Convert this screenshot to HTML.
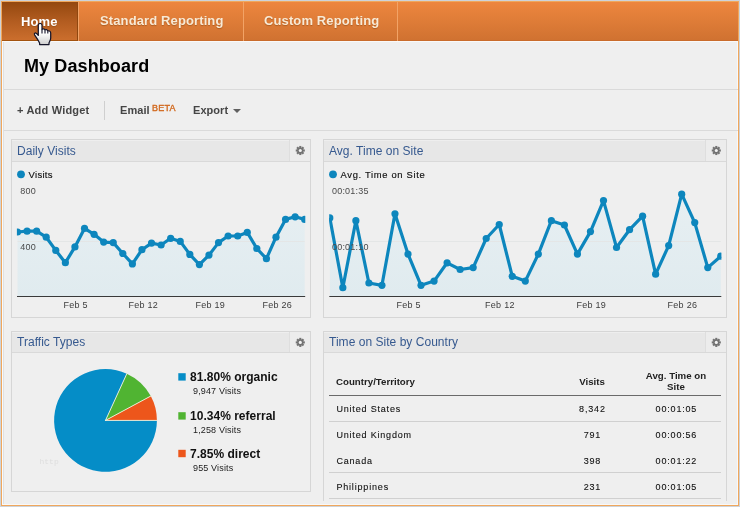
<!DOCTYPE html>
<html><head><meta charset="utf-8"><title>My Dashboard</title>
<style>
html,body{margin:0;padding:0;}
body{width:740px;height:507px;overflow:hidden;background:#ced3d9;font-family:"Liberation Sans",Arial,sans-serif;position:relative;}
.abs{position:absolute;}
#frame{position:absolute;left:1px;top:1px;width:736px;height:503px;border:1px solid #f0a75c;background:#efefef;overflow:hidden;}
#inner{position:absolute;left:-2px;top:-2px;width:740px;height:507px;}
#nav{left:2px;top:2px;width:736px;height:39px;background:linear-gradient(#ed863e,#d07231);border-bottom:1px solid #c96b2b;box-sizing:border-box;}
#home{left:2px;top:2px;width:75px;height:38px;background:linear-gradient(#94480f,#b25c20 50%,#cb6e2d);border-right:1px solid #8f470f;border-bottom:1px solid #a3530f;}
.tab{position:absolute;top:1px;letter-spacing:0.12px;height:39px;line-height:39px;font-weight:bold;font-size:13px;color:#f8ead6;text-shadow:0 1px 1px rgba(120,60,10,.45);white-space:nowrap;}
.sep{position:absolute;top:2px;width:1px;height:39px;background:#f2a366;}
.hl{position:absolute;height:1px;background:#dadada;}
.t11{position:absolute;letter-spacing:0.2px;font-weight:bold;font-size:11px;color:#454545;white-space:nowrap;line-height:13px;}
.w{position:absolute;border:1px solid #d6d6d6;box-sizing:border-box;}
.wh{position:absolute;left:0;top:0;right:0;height:21px;background:#e7e7e7;box-shadow:inset 0 1px 0 #eeeeee;border-bottom:1px solid #d9d9d9;}
.wt{position:absolute;left:5px;top:1px;letter-spacing:0.03px;line-height:21px;font-size:12px;color:#36598f;white-space:nowrap;}
.wh.b{height:20px;}
.wh.b .wt{top:0;}
.wh.b .gs,.wh.b .gb{height:20px;}
.gs{position:absolute;right:20px;top:0;width:1px;height:21px;background:#dedede;}
.gb{position:absolute;right:0;top:0;width:20px;height:21px;background:#ececec;}
svg{position:absolute;left:0;top:0;}
svg text{font-family:"Liberation Sans",Arial,sans-serif;}
.lg{position:absolute;letter-spacing:0.02px;font-weight:bold;font-size:12px;color:#111;white-space:nowrap;line-height:14px;}
.ls{position:absolute;letter-spacing:0.15px;font-size:9px;color:#222;white-space:nowrap;line-height:11px;}
.sq{position:absolute;width:8px;height:8px;}
.th{position:absolute;font-weight:bold;font-size:9.7px;color:#222;white-space:nowrap;line-height:11px;}
.td{position:absolute;transform:translate(0.4px,-0.3px);font-size:9px;color:#111;-webkit-text-stroke:0.1px #111;white-space:nowrap;line-height:12px;letter-spacing:0.82px;}
.c{text-align:center;}
</style></head><body>
<div id="frame"><div id="inner">
<div class="abs" style="left:2px;top:41px;width:736px;height:1px;background:#f9f9f9"></div>
<div class="abs" style="left:2px;top:41px;width:1px;height:464px;background:#fafafa"></div>
<div class="abs" style="left:3px;top:42px;width:1px;height:463px;background:#e0e0e0"></div>
<div class="abs" style="left:737px;top:41px;width:1px;height:464px;background:#f8f8f8"></div>
<div class="abs" style="left:2px;top:504px;width:736px;height:1px;background:#f8f8f8"></div>
<div id="nav" class="abs"></div>
<div id="home" class="abs"></div>
<div class="sep" style="left:78px"></div><div class="sep" style="left:243px"></div><div class="sep" style="left:397px"></div>
<div class="tab" style="left:21px;color:#fff;transform:translateY(0.6px)">Home</div>
<div class="tab" style="left:100px">Standard Reporting</div>
<div class="tab" style="left:264px">Custom Reporting</div>

<div class="abs" style="left:24px;top:55px;font-size:18px;font-weight:bold;color:#000;line-height:22px;letter-spacing:0.1px;white-space:nowrap">My Dashboard</div>
<div class="hl" style="left:4px;top:89px;width:734px"></div>
<div class="t11" style="left:17px;top:104px">+ Add Widget</div>
<div class="abs" style="left:104px;top:101px;width:1px;height:19px;background:#cfcfcf"></div>
<div class="t11" style="left:120px;top:104px;letter-spacing:0.05px">Email</div>
<div class="abs" style="left:152px;top:102px;font-size:9px;line-height:10px;color:#d2691e;-webkit-text-stroke:0.35px #d2691e;letter-spacing:0.2px;transform:translateY(0.6px);white-space:nowrap">BETA</div>
<div class="t11" style="left:193px;top:104px;letter-spacing:0.05px">Export</div>
<div class="abs" style="left:233px;top:109px;width:0;height:0;border-left:4px solid transparent;border-right:4px solid transparent;border-top:4.5px solid #606060"></div>
<div class="hl" style="left:4px;top:130px;width:734px"></div>

<!-- widgets -->
<div class="w" style="left:11px;top:139px;width:300px;height:179px"><div class="wh"><div class="wt">Daily Visits</div><div class="gb"></div><div class="gs"></div></div></div>
<div class="w" style="left:323px;top:139px;width:404px;height:179px"><div class="wh"><div class="wt">Avg. Time on Site</div><div class="gb"></div><div class="gs"></div></div></div>
<div class="w" style="left:11px;top:331px;width:300px;height:161px"><div class="wh b"><div class="wt">Traffic Types</div><div class="gb"></div><div class="gs"></div></div></div>
<div class="w" style="left:323px;top:331px;width:404px;height:170px;border-bottom:none"><div class="wh b"><div class="wt">Time on Site by Country</div><div class="gb"></div><div class="gs"></div></div></div>

<svg width="740" height="507" viewBox="0 0 740 507"><defs><linearGradient id="fg" x1="0" y1="195" x2="0" y2="296" gradientUnits="userSpaceOnUse"><stop offset="0" stop-color="#e7eff2"/><stop offset="1" stop-color="#e0ebef"/></linearGradient><linearGradient id="hg" x1="0" y1="0" x2="0" y2="1"><stop offset="0.45" stop-color="#fff"/><stop offset="1" stop-color="#cfcfcf"/></linearGradient></defs>
<clipPath id="c17"><rect x="16.9" y="165" width="288.4" height="140"/></clipPath><g clip-path="url(#c17)"><polygon points="17.5,296.5 17.5,232 27.07,231.2 36.65,231.2 46.22,237.2 55.79,250.4 65.37,262.7 74.94,246.9 84.51,228.4 94.09,234.3 103.66,242.1 113.23,242.6 122.81,253.5 132.38,263.9 141.95,249.7 151.53,243.1 161.1,245 170.67,238.3 180.25,241.4 189.82,254.4 199.39,264.6 208.97,255.1 218.54,242.6 228.11,236 237.69,236 247.26,232.4 256.83,248.5 266.41,258.7 275.98,237.2 285.55,219.4 295.13,216.8 304.7,219.4 304.7,296.5" fill="url(#fg)"/><line x1="17.5" x2="304.7" y1="241.5" y2="241.5" stroke="#e4e6e6" stroke-width="1"/><polyline points="17.5,232 27.07,231.2 36.65,231.2 46.22,237.2 55.79,250.4 65.37,262.7 74.94,246.9 84.51,228.4 94.09,234.3 103.66,242.1 113.23,242.6 122.81,253.5 132.38,263.9 141.95,249.7 151.53,243.1 161.1,245 170.67,238.3 180.25,241.4 189.82,254.4 199.39,264.6 208.97,255.1 218.54,242.6 228.11,236 237.69,236 247.26,232.4 256.83,248.5 266.41,258.7 275.98,237.2 285.55,219.4 295.13,216.8 304.7,219.4" fill="none" stroke="#0d86bd" stroke-width="3.2" stroke-linejoin="round"/><circle cx="17.5" cy="232" r="3.6" fill="#0d86bd"/><circle cx="27.07" cy="231.2" r="3.6" fill="#0d86bd"/><circle cx="36.65" cy="231.2" r="3.6" fill="#0d86bd"/><circle cx="46.22" cy="237.2" r="3.6" fill="#0d86bd"/><circle cx="55.79" cy="250.4" r="3.6" fill="#0d86bd"/><circle cx="65.37" cy="262.7" r="3.6" fill="#0d86bd"/><circle cx="74.94" cy="246.9" r="3.6" fill="#0d86bd"/><circle cx="84.51" cy="228.4" r="3.6" fill="#0d86bd"/><circle cx="94.09" cy="234.3" r="3.6" fill="#0d86bd"/><circle cx="103.66" cy="242.1" r="3.6" fill="#0d86bd"/><circle cx="113.23" cy="242.6" r="3.6" fill="#0d86bd"/><circle cx="122.81" cy="253.5" r="3.6" fill="#0d86bd"/><circle cx="132.38" cy="263.9" r="3.6" fill="#0d86bd"/><circle cx="141.95" cy="249.7" r="3.6" fill="#0d86bd"/><circle cx="151.53" cy="243.1" r="3.6" fill="#0d86bd"/><circle cx="161.1" cy="245" r="3.6" fill="#0d86bd"/><circle cx="170.67" cy="238.3" r="3.6" fill="#0d86bd"/><circle cx="180.25" cy="241.4" r="3.6" fill="#0d86bd"/><circle cx="189.82" cy="254.4" r="3.6" fill="#0d86bd"/><circle cx="199.39" cy="264.6" r="3.6" fill="#0d86bd"/><circle cx="208.97" cy="255.1" r="3.6" fill="#0d86bd"/><circle cx="218.54" cy="242.6" r="3.6" fill="#0d86bd"/><circle cx="228.11" cy="236" r="3.6" fill="#0d86bd"/><circle cx="237.69" cy="236" r="3.6" fill="#0d86bd"/><circle cx="247.26" cy="232.4" r="3.6" fill="#0d86bd"/><circle cx="256.83" cy="248.5" r="3.6" fill="#0d86bd"/><circle cx="266.41" cy="258.7" r="3.6" fill="#0d86bd"/><circle cx="275.98" cy="237.2" r="3.6" fill="#0d86bd"/><circle cx="285.55" cy="219.4" r="3.6" fill="#0d86bd"/><circle cx="295.13" cy="216.8" r="3.6" fill="#0d86bd"/><circle cx="304.7" cy="219.4" r="3.6" fill="#0d86bd"/></g><line x1="17.0" x2="305.2" y1="296.5" y2="296.5" stroke="#3a3a3a" stroke-width="1"/>
<clipPath id="c329"><rect x="329.2" y="165" width="392.19999999999993" height="140"/></clipPath><g clip-path="url(#c329)"><polygon points="329.8,296.5 329.8,217.9 342.83,287.7 355.87,220.7 368.9,283 381.93,285.3 394.97,213.8 408.0,254.1 421.03,285.3 434.07,281.1 447.1,262.8 460.13,269.5 473.17,267.6 486.2,238.5 499.23,224.5 512.27,276.3 525.3,281.1 538.33,254.1 551.37,220.7 564.4,225 577.43,254.1 590.47,231.6 603.5,200.6 616.53,247.5 629.57,229.7 642.6,216.2 655.63,274.2 668.67,245.6 681.7,194.2 694.73,222.6 707.77,267.6 720.8,256.2 720.8,296.5" fill="url(#fg)"/><line x1="329.8" x2="720.8" y1="241.5" y2="241.5" stroke="#e4e6e6" stroke-width="1"/><polyline points="329.8,217.9 342.83,287.7 355.87,220.7 368.9,283 381.93,285.3 394.97,213.8 408.0,254.1 421.03,285.3 434.07,281.1 447.1,262.8 460.13,269.5 473.17,267.6 486.2,238.5 499.23,224.5 512.27,276.3 525.3,281.1 538.33,254.1 551.37,220.7 564.4,225 577.43,254.1 590.47,231.6 603.5,200.6 616.53,247.5 629.57,229.7 642.6,216.2 655.63,274.2 668.67,245.6 681.7,194.2 694.73,222.6 707.77,267.6 720.8,256.2" fill="none" stroke="#0d86bd" stroke-width="3.2" stroke-linejoin="round"/><circle cx="329.8" cy="217.9" r="3.6" fill="#0d86bd"/><circle cx="342.83" cy="287.7" r="3.6" fill="#0d86bd"/><circle cx="355.87" cy="220.7" r="3.6" fill="#0d86bd"/><circle cx="368.9" cy="283" r="3.6" fill="#0d86bd"/><circle cx="381.93" cy="285.3" r="3.6" fill="#0d86bd"/><circle cx="394.97" cy="213.8" r="3.6" fill="#0d86bd"/><circle cx="408.0" cy="254.1" r="3.6" fill="#0d86bd"/><circle cx="421.03" cy="285.3" r="3.6" fill="#0d86bd"/><circle cx="434.07" cy="281.1" r="3.6" fill="#0d86bd"/><circle cx="447.1" cy="262.8" r="3.6" fill="#0d86bd"/><circle cx="460.13" cy="269.5" r="3.6" fill="#0d86bd"/><circle cx="473.17" cy="267.6" r="3.6" fill="#0d86bd"/><circle cx="486.2" cy="238.5" r="3.6" fill="#0d86bd"/><circle cx="499.23" cy="224.5" r="3.6" fill="#0d86bd"/><circle cx="512.27" cy="276.3" r="3.6" fill="#0d86bd"/><circle cx="525.3" cy="281.1" r="3.6" fill="#0d86bd"/><circle cx="538.33" cy="254.1" r="3.6" fill="#0d86bd"/><circle cx="551.37" cy="220.7" r="3.6" fill="#0d86bd"/><circle cx="564.4" cy="225" r="3.6" fill="#0d86bd"/><circle cx="577.43" cy="254.1" r="3.6" fill="#0d86bd"/><circle cx="590.47" cy="231.6" r="3.6" fill="#0d86bd"/><circle cx="603.5" cy="200.6" r="3.6" fill="#0d86bd"/><circle cx="616.53" cy="247.5" r="3.6" fill="#0d86bd"/><circle cx="629.57" cy="229.7" r="3.6" fill="#0d86bd"/><circle cx="642.6" cy="216.2" r="3.6" fill="#0d86bd"/><circle cx="655.63" cy="274.2" r="3.6" fill="#0d86bd"/><circle cx="668.67" cy="245.6" r="3.6" fill="#0d86bd"/><circle cx="681.7" cy="194.2" r="3.6" fill="#0d86bd"/><circle cx="694.73" cy="222.6" r="3.6" fill="#0d86bd"/><circle cx="707.77" cy="267.6" r="3.6" fill="#0d86bd"/><circle cx="720.8" cy="256.2" r="3.6" fill="#0d86bd"/></g><line x1="329.3" x2="721.3" y1="296.5" y2="296.5" stroke="#3a3a3a" stroke-width="1"/>
<circle cx="21" cy="174.3" r="3.9" fill="#0d86bd"/><text x="28.5" y="178" font-size="9.5" fill="#111" stroke="#111" stroke-width="0.15" letter-spacing="0.3">Visits</text>
<circle cx="333" cy="174.3" r="3.9" fill="#0d86bd"/><text x="340.5" y="178" font-size="9.4" fill="#111" stroke="#111" stroke-width="0.15" letter-spacing="0.68">Avg. Time on Site</text>
<g font-size="9" fill="#4a4a4a" letter-spacing="0.2" transform="translate(0,-0.4)">
<text x="20.3" y="194.6">800</text><text x="20.3" y="250.8">400</text>
<text x="332" y="194.6">00:01:35</text><text x="332" y="250.8">00:01:10</text>
</g>
<g font-size="9" fill="#3c3c3c" text-anchor="middle" letter-spacing="0.25" transform="translate(0.7,0)">
<text x="75" y="308">Feb 5</text><text x="142.5" y="308">Feb 12</text><text x="209.5" y="308">Feb 19</text><text x="276.5" y="308">Feb 26</text>
<text x="408" y="308">Feb 5</text><text x="499.2" y="308">Feb 12</text><text x="590.5" y="308">Feb 19</text><text x="681.7" y="308">Feb 26</text>
</g>
<path d="M105.5,420.4 L156.90,420.40 A51.4,51.4 0 0 0 150.77,396.06 Z" fill="#ed561b"/><path d="M105.5,420.4 L150.77,396.06 A51.4,51.4 0 0 0 126.83,373.64 Z" fill="#50b432"/><path d="M105.5,420.4 L126.83,373.64 A51.4,51.4 0 1 0 156.90,420.40 Z" fill="#058dc7"/><line x1="105.5" y1="420.4" x2="156.90" y2="420.40" stroke="#f4f1da" stroke-width="0.9" stroke-linecap="round"/><line x1="105.5" y1="420.4" x2="150.77" y2="396.06" stroke="#f4f1da" stroke-width="0.9" stroke-linecap="round"/><line x1="105.5" y1="420.4" x2="126.83" y2="373.64" stroke="#f4f1da" stroke-width="0.9" stroke-linecap="round"/>
<text x="39.5" y="464.3" font-size="8" fill="#dedede" style="font-family:'Liberation Mono',monospace">http</text>
<g transform="translate(300.3,150.5)"><g fill="#737373"><circle cx="0" cy="0" r="3.1"/><rect x="-1.05" y="-4.55" width="2.1" height="9.1" transform="rotate(0)"/><rect x="-1.05" y="-4.55" width="2.1" height="9.1" transform="rotate(45)"/><rect x="-1.05" y="-4.55" width="2.1" height="9.1" transform="rotate(90)"/><rect x="-1.05" y="-4.55" width="2.1" height="9.1" transform="rotate(135)"/><circle cx="0" cy="0" r="1.55" fill="#f2f2f2"/></g></g>
<g transform="translate(716.3,150.5)"><g fill="#737373"><circle cx="0" cy="0" r="3.1"/><rect x="-1.05" y="-4.55" width="2.1" height="9.1" transform="rotate(0)"/><rect x="-1.05" y="-4.55" width="2.1" height="9.1" transform="rotate(45)"/><rect x="-1.05" y="-4.55" width="2.1" height="9.1" transform="rotate(90)"/><rect x="-1.05" y="-4.55" width="2.1" height="9.1" transform="rotate(135)"/><circle cx="0" cy="0" r="1.55" fill="#f2f2f2"/></g></g>
<g transform="translate(300.3,342.4)"><g fill="#737373"><circle cx="0" cy="0" r="3.1"/><rect x="-1.05" y="-4.55" width="2.1" height="9.1" transform="rotate(0)"/><rect x="-1.05" y="-4.55" width="2.1" height="9.1" transform="rotate(45)"/><rect x="-1.05" y="-4.55" width="2.1" height="9.1" transform="rotate(90)"/><rect x="-1.05" y="-4.55" width="2.1" height="9.1" transform="rotate(135)"/><circle cx="0" cy="0" r="1.55" fill="#f2f2f2"/></g></g>
<g transform="translate(716.3,342.4)"><g fill="#737373"><circle cx="0" cy="0" r="3.1"/><rect x="-1.05" y="-4.55" width="2.1" height="9.1" transform="rotate(0)"/><rect x="-1.05" y="-4.55" width="2.1" height="9.1" transform="rotate(45)"/><rect x="-1.05" y="-4.55" width="2.1" height="9.1" transform="rotate(90)"/><rect x="-1.05" y="-4.55" width="2.1" height="9.1" transform="rotate(135)"/><circle cx="0" cy="0" r="1.55" fill="#f2f2f2"/></g></g>
<rect x="178.3" y="373.2" width="7.4" height="7.4" fill="#058dc7"/><rect x="178.3" y="412.2" width="7.4" height="7.4" fill="#50b432"/><rect x="178.3" y="449.8" width="7.4" height="7.4" fill="#ed561b"/>
<!-- hand cursor -->
<g transform="translate(34,23)">
<path d="M4.3,2.2 C4.3,-0.3 8,-0.3 8,2.2 L8,6.5 C8.6,5.5 10.6,5.5 11,7 C11.6,6.3 13.4,6.5 13.8,8 C14.6,7.5 16.6,7.9 16.7,10 L16.7,15 C16.7,17 15.5,18.5 15,20 L15,21.6 L5.6,21.6 L5.6,20 C4.5,17.5 2.5,14.5 0.6,11.8 C-0.2,10.4 1.2,9.4 2.4,10.4 L4.3,12.4 Z" fill="url(#hg)" stroke="#15152a" stroke-width="1.25" stroke-linejoin="round"/>
<path d="M8,6.5 L8,10.6 M11,7.2 L11,10.6 M13.8,8.2 L13.8,10.6" stroke="#15152a" stroke-width="1.1" fill="none"/>
</g>
</svg>

<!-- pie legend -->
<div class="lg" style="left:190px;top:370px">81.80% organic</div><div class="ls" style="left:193px;top:386px">9,947 Visits</div>
<div class="lg" style="left:190px;top:409px">10.34% referral</div><div class="ls" style="left:193px;top:425px">1,258 Visits</div>
<div class="lg" style="left:190px;top:447px">7.85% direct</div><div class="ls" style="left:193px;top:463px">955 Visits</div>

<!-- table -->
<div class="th" style="left:336px;top:376px">Country/Territory</div>
<div class="th c" style="left:562px;width:60px;top:376px">Visits</div>
<div class="th c" style="left:636px;width:80px;top:370px">Avg. Time on<br>Site</div>
<div class="abs" style="left:329px;top:395px;width:392px;height:1px;background:#6a6a6a"></div>
<div class="abs" style="left:329px;top:421px;width:392px;height:1px;background:#d0d0d0"></div>
<div class="abs" style="left:329px;top:472px;width:392px;height:1px;background:#d0d0d0"></div>
<div class="abs" style="left:329px;top:498px;width:392px;height:1px;background:#d0d0d0"></div>
<div class="td" style="left:336px;top:403px">United States</div><div class="td c" style="left:562px;width:60px;top:403px">8,342</div><div class="td c" style="left:636px;width:80px;top:403px">00:01:05</div>
<div class="td" style="left:336px;top:429px">United Kingdom</div><div class="td c" style="left:562px;width:60px;top:429px">791</div><div class="td c" style="left:636px;width:80px;top:429px">00:00:56</div>
<div class="td" style="left:336px;top:455px">Canada</div><div class="td c" style="left:562px;width:60px;top:455px">398</div><div class="td c" style="left:636px;width:80px;top:455px">00:01:22</div>
<div class="td" style="left:336px;top:481px">Philippines</div><div class="td c" style="left:562px;width:60px;top:481px">231</div><div class="td c" style="left:636px;width:80px;top:481px">00:01:05</div>
</div></div>
</body></html>
